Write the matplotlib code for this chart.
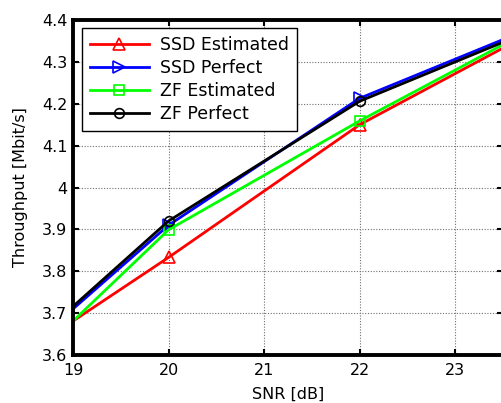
import matplotlib
matplotlib.use("Agg")
import matplotlib.pyplot as plt

snr = [18, 20, 22, 24]
ssd_est = [3.529, 3.833, 4.150, 4.394]
ssd_perf = [3.510, 3.910, 4.213, 4.400]
zf_est = [3.463, 3.899, 4.159, 4.402]
zf_perf = [3.512, 3.920, 4.206, 4.394]
xticks = [19, 20, 21, 22, 23]
yticks = [3.6, 3.7, 3.8, 3.9, 4.0, 4.1, 4.2, 4.3, 4.4]
ytick_labels = ["3.6", "3.7", "3.8", "3.9", "4", "4.1", "4.2", "4.3", "4.4"]

plt.rcParams['font.family'] = ['DejaVu Sans']
fig = plt.figure(figsize=(5.01, 4.03), dpi=100)
ax = fig.add_axes([73/501, (403-355)/403, 430/501, 335/403])

lw = 2.0
mk = dict(mfc='none', mew=1.2)
ax.plot(snr, ssd_est, color='#ff0000', lw=lw, marker='^', ms=8, label='SSD Estimated', **mk)
ax.plot(snr, ssd_perf, color='#0000ff', lw=lw, marker='>', ms=8, label='SSD Perfect', **mk)
ax.plot(snr, zf_est, color='#00ff00', lw=lw, marker='s', ms=7, label='ZF Estimated', **mk)
ax.plot(snr, zf_perf, color='#000000', lw=lw, marker='o', ms=7, label='ZF Perfect', **mk)

ax.set_xlim(19, 23.5)
ax.set_ylim(3.6, 4.4)
ax.set_xticks(xticks)
ax.set_yticks(yticks)
ax.set_yticklabels(ytick_labels)
ax.tick_params(direction='in', length=4, width=1.5, top=True, right=True, labelsize=11.5)
ax.tick_params(axis='x', pad=6)
ax.tick_params(axis='y', pad=4)
ax.grid(True, color='#707070', linestyle=(0, (1, 1.5)), linewidth=0.8)
for s in ax.spines.values():
    s.set_linewidth(2.8)

ax.set_xlabel('SNR [dB]', fontsize=11.5, labelpad=6)
ax.set_ylabel('Throughput [Mbit/s]', fontsize=11.5, labelpad=10)

leg = ax.legend(loc='upper left', bbox_to_anchor=(9/430, 1 - 8/335), fontsize=12.5,
                fancybox=False, framealpha=1, edgecolor='black', handlelength=3.4,
                borderpad=0.45, labelspacing=0.3, handletextpad=0.65, borderaxespad=0)
leg.get_frame().set_linewidth(1.0)

fig.savefig('out.png', dpi=100)
